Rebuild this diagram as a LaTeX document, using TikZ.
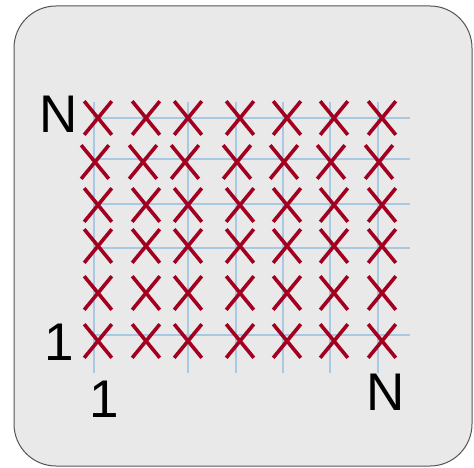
\documentclass[tikz,border=0pt]{standalone}
\usepackage{fontspec}
\setmainfont{Liberation Sans}
\usetikzlibrary{shapes.misc}
\definecolor{panel}{HTML}{E9E9E9}
\definecolor{rim}{HTML}{555555}
\definecolor{gridblue}{HTML}{A8C8E4}
\definecolor{crimson}{HTML}{A3001F}

\begin{document}
\begin{tikzpicture}[
      x=1pt,y=-1pt,
      crossmark/.style={cross out,draw=crimson,line width=3.6pt,inner sep=0pt,minimum width=24pt,minimum height=30pt},
      gridline/.style={gridblue,line width=1.6pt},
      lbl/.style={inner sep=0pt,font=\fontsize{53}{53}\selectfont}]
      \useasboundingbox (0,0) rectangle (474,468);
      \draw[rim,fill=panel,line width=1pt,rounded corners=42pt] (14,6) rectangle (472,466);
      % grid
      \foreach \gx in {94,188,236,283,330,378}
        \draw[gridline] (\gx,102) -- (\gx,373);
      \foreach \gy in {118,159,204,248,335}
        \draw[gridline] (94,\gy) -- (410,\gy);
      % crosses
      \foreach \gy/\dx [count=\r] in {118/0,162/-3,205/0,246/0,293/0,341/0}
        \foreach \gx [count=\c] in {98,146,188,240,287,334,382}
          \node[crossmark] (x\r\c) at (\gx+\dx,\gy) {};
      \node[lbl] (ntop) at (58.5,114) {N};
      \node[lbl] (oneleft) at (59.5,342) {1};
      \node[lbl] (onebottom) at (104,399.5) {1};
      \node[lbl] (nright) at (386,392) {N};
    \end{tikzpicture}
\end{document}
